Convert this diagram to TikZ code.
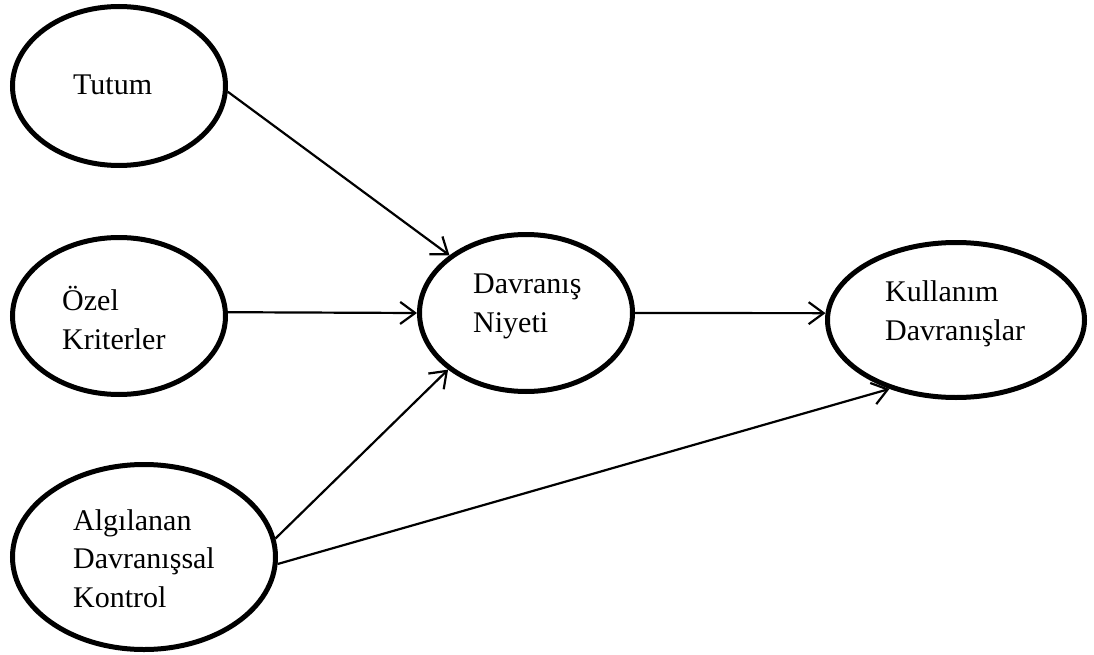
\documentclass[tikz,border=0pt]{standalone}
\usepackage{fontspec}
\setmainfont{Liberation Serif}
\usetikzlibrary{shapes.geometric,arrows.meta}

\begin{document}
\begin{tikzpicture}[x=1pt,y=-1pt,
  construct/.style={draw, ellipse, line width=5pt, inner sep=0pt},
  label/.style={anchor=base west, align=left, inner sep=0pt,
                font=\fontsize{30}{38.5}\selectfont},
  link/.style={line width=2.2pt, -{Straight Barb[length=15pt,width=22pt,line width=2.2pt]}}
]
  \useasboundingbox (0,0) rectangle (1094,655);

  % constructs of the model
  \node[construct, minimum width=213pt, minimum height=159pt] (tutum) at (119,86) {};
  \node[construct, minimum width=213pt, minimum height=157pt] (ozel)  at (119,316) {};
  \node[construct, minimum width=263pt, minimum height=185pt] (akd)   at (144,557) {};
  \node[construct, minimum width=213pt, minimum height=157pt] (dn)    at (526,313) {};
  \node[construct, minimum width=257pt, minimum height=155pt] (kd)    at (956,320) {};

  % their names (anchored at the baseline of the last line)
  \node[label] (tTutum) at (73,95)  {Tutum};
  \node[label] (tOzel)  at (62,349) {Özel\\Kriterler};
  \node[label] (tAkd)   at (73,607) {Algılanan\\Davranışsal\\Kontrol};
  \node[label] (tDn)    at (473,332) {Davranış\\Niyeti};
  \node[label] (tKd)    at (885,340) {Kullanım\\Davranışlar};

  % paths between constructs
  \draw[link] (tutum.-3) -- (dn.143);
  \draw[link] (ozel.2)   -- (dn.180);
  \draw[link] (akd.8)    -- (dn.216);
  \draw[link] (dn.0)     -- (kd.177);
  \draw[link] (akd.-3.4) -- (kd.226);
\end{tikzpicture}
\end{document}
